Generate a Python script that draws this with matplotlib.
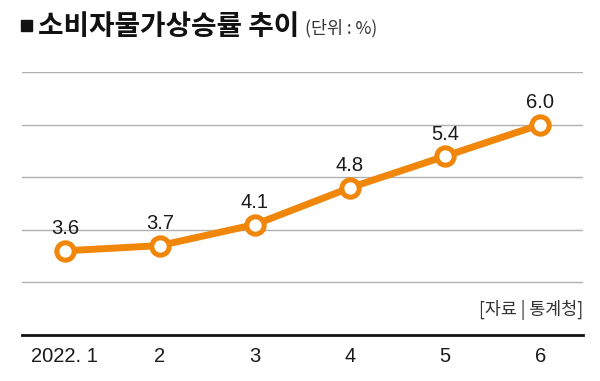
import matplotlib
matplotlib.use("Agg")
import matplotlib.pyplot as plt
from matplotlib.patches import Rectangle

# 데이터
months = ["2022. 1", "2", "3", "4", "5", "6"]
rates = [3.6, 3.7, 4.1, 4.8, 5.4, 6.0]
grid_vals = [3, 4, 5, 6, 7]

num_font = ["Liberation Sans", "DejaVu Sans"]
plt.rcParams['font.family'] = ['Noto Sans CJK KR', 'DejaVu Sans']

orange = "#F0860A"

fig = plt.figure(figsize=(6, 3.81), dpi=100)
ax = fig.add_axes([22 / 600, 46 / 381, 561 / 600, 263 / 381])

x = list(range(len(rates)))
ax.plot(x, rates, color=orange, lw=5, marker="o", ms=12.5, mfc="white",
        mec=orange, mew=3.6, solid_capstyle="round", zorder=3)

for xi, v in zip(x, rates):
    ax.text(xi, v + 0.24, f"{v:.1f}", ha="center", va="bottom",
            fontsize=14.5, family=num_font, color="#1a1a1a")

for g in grid_vals:
    ax.axhline(g, color="#b0b0b0", lw=1.0, zorder=1)

ax.set_xlim(-0.45, 5.45)
ax.set_ylim(2, 7)
ax.set_yticks([])
ax.set_xticks(x)
ax.set_xticklabels(months, fontsize=14.5, family=num_font, color="#1a1a1a")
ax.tick_params(axis="x", length=0, pad=9)
for s in ["top", "right", "left"]:
    ax.spines[s].set_visible(False)
ax.spines["bottom"].set_linewidth(2)
ax.spines["bottom"].set_color("#111111")

ax.text(1.0, 0.095, "[자료 | 통계청]", transform=ax.transAxes, ha="right",
        va="center", fontsize=12.5, color="#333333")

# 제목
fig.patches.append(Rectangle((21 / 600, 1 - 31 / 381), 11 / 600, 11 / 381,
                             transform=fig.transFigure, color="#111111"))
fig.text(38 / 600, 1 - 27 / 381, "소비자물가상승률 추이", fontsize=20,
         fontweight="bold", va="center", ha="left", color="#111111")
fig.text(305 / 600, 1 - 28 / 381, "(단위 : %)", fontsize=12.5,
         va="center", ha="left", color="#333333")

fig.savefig("out.png", dpi=100)
